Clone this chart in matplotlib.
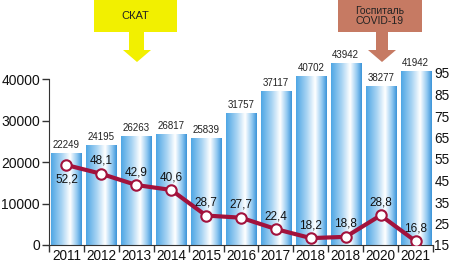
import matplotlib
matplotlib.use("Agg")
import matplotlib.pyplot as plt
import numpy as np
from matplotlib.colors import LinearSegmentedColormap
from matplotlib.patches import Polygon

plt.rcParams['font.family'] = ['Liberation Sans', 'DejaVu Sans']

years = ["2011", "2012", "2013", "2014", "2015", "2016", "2017", "2018", "2018", "2020", "2021"]
bar_values = [22249, 24195, 26263, 26817, 25839, 31757, 37117, 40702, 43942, 38277, 41942]
line_values = [52.2, 48.1, 42.9, 40.6, 28.7, 27.7, 22.4, 18.2, 18.8, 28.8, 16.8]
left_ticks = [0, 10000, 20000, 30000, 40000]
right_ticks = [15, 25, 35, 45, 55, 65, 75, 85, 95]

W, H = 449, 266
fig = plt.figure(figsize=(W / 100, H / 100), dpi=100)

def fx(x):
    return x / W

def fy(y):
    return 1 - y / H

ax_left, ax_right, ax_bottom, ax_top = 49, 433, 245, 60
ax = fig.add_axes([fx(ax_left), fy(ax_bottom), fx(ax_right - ax_left), (ax_bottom - ax_top) / H])
ax2 = ax.twinx()

x = np.arange(len(years))
bw = 0.86
ymax_left = 40000 * (ax_bottom - ax_top) / (245 - 79)

cmap = LinearSegmentedColormap.from_list(
    "barg", [(0.0, "#4ea6e4"), (0.35, "#a9d4f3"), (0.62, "#ffffff"), (0.85, "#8cc6f0"), (1.0, "#3a93d8")])
grad = np.linspace(0, 1, 256).reshape(1, -1)
bars = ax.bar(x, bar_values, width=bw, color="none", edgecolor="none", zorder=2)
for b, v in zip(bars, bar_values):
    x0 = b.get_x()
    im = ax.imshow(grad, cmap=cmap, aspect="auto", extent=[x0, x0 + bw, 0, v], zorder=2)
    im.set_clip_path(b)
    ax.text(x0 + bw / 2, v + 700, f"{v}", ha="center", va="bottom", fontsize=7, color="#222222", zorder=5)
ax.set_xlim(-0.5, len(years) - 0.5)
ax.set_ylim(0, ymax_left)

ax.set_yticks(left_ticks)
ax.set_yticklabels([str(t) for t in left_ticks], fontsize=10)
ax.spines['left'].set_bounds(0, 40000)
ax.spines['top'].set_visible(False)
ax.spines['right'].set_visible(False)
ax.spines['left'].set_color("#333333")
ax.spines['bottom'].set_color("#333333")
ax.tick_params(axis='y', direction='out', length=5, width=1, color="#333333", pad=1.5, labelcolor="#111111")

ax.set_xticks(np.arange(-0.5, len(years), 1.0))
ax.set_xticklabels([])
ax.set_xticks(x, minor=True)
ax.set_xticklabels(years, minor=True, fontsize=9.8, color="#111111")
ax.tick_params(axis='x', which='major', direction='out', length=5, width=1, color="#333333")
ax.tick_params(axis='x', which='minor', length=0, pad=3)

# right axis
ymax_right = 15 + (ax_bottom - ax_top) / ((244 - 72) / 80)
ax2.set_ylim(15, ymax_right)
ax2.set_yticks(right_ticks)
ax2.set_yticklabels([str(t) for t in right_ticks], fontsize=9.8, color="#111111")
ax2.tick_params(axis='y', length=0, pad=1)
for s in ax2.spines.values():
    s.set_visible(False)

line_color = "#a2123c"
ax2.plot(x, line_values, color=line_color, lw=3, zorder=4, solid_capstyle="round")
ax2.plot(x, line_values, ls="none", marker="o", ms=7.5, mfc="white", mec=line_color, mew=1.5, zorder=6)
for i, v in enumerate(line_values):
    lab = f"{v:.1f}".replace(".", ",")
    if i == 0:
        ax2.text(i, v - 4.0, lab, ha="center", va="top", fontsize=8.5, color="#111111", zorder=7)
    else:
        ax2.text(i, v + 3.2, lab, ha="center", va="bottom", fontsize=8.5, color="#111111", zorder=7)

ax.set_zorder(1)
ax2.set_zorder(2)
ax2.patch.set_visible(False)

# annotation callouts
def callout(x0, x1, y1, sx0, sx1, hx0, hx1, hy, tip_x, tip_y, color, text, fs):
    poly = [(x0, 0), (x1, 0), (x1, y1), (sx1, y1), (sx1, hy), (hx1, hy), (tip_x, tip_y),
            (hx0, hy), (sx0, hy), (sx0, y1), (x0, y1)]
    fig.patches.append(Polygon([(fx(a), fy(b)) for a, b in poly], closed=True,
                               transform=fig.transFigure, facecolor=color, edgecolor="none"))
    fig.text(fx((x0 + x1) / 2), fy(y1 / 2), text, ha="center", va="center", fontsize=fs,
             color="#222222", linespacing=1.05)

callout(94, 177, 32, 129, 144, 123, 151, 50, 137, 62, "#f2f000", "СКАТ", 8)
callout(338, 422, 32, 376, 388, 368, 396, 50, 382, 62, "#c67a63", "Госпиталь\nCOVID-19", 7.5)

fig.savefig("out.png", dpi=100)
